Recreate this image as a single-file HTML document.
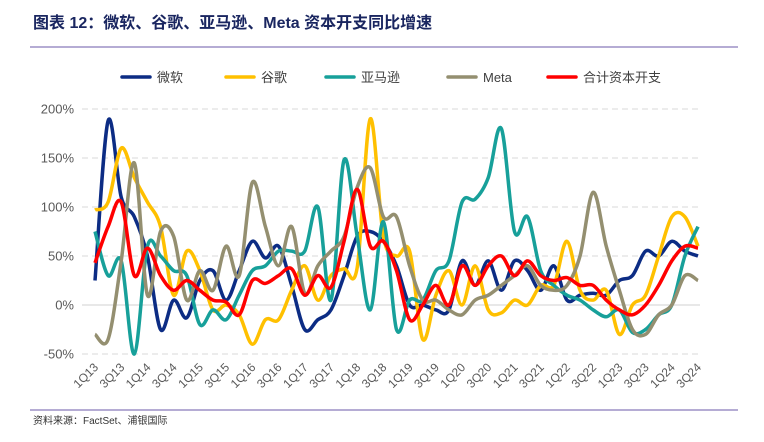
<!DOCTYPE html>
<html><head><meta charset="utf-8"><style>
body{margin:0;background:#fff;width:764px;height:437px;overflow:hidden;font-family:"Liberation Sans","Noto Sans CJK SC",sans-serif}
</style></head><body>
<svg width="764" height="437" xmlns="http://www.w3.org/2000/svg">
<text x="33" y="28" font-size="16" font-weight="bold" fill="#1a2660" font-family="Liberation Sans,Noto Sans CJK SC,sans-serif">图表 12：微软、谷歌、亚马逊、Meta 资本开支同比增速</text>
<line x1="30" y1="47" x2="738" y2="47" stroke="#6b5aa8" stroke-width="1"/>
<line x1="30" y1="410" x2="738" y2="410" stroke="#6b5aa8" stroke-width="1"/>
<text x="33" y="424" font-size="10" fill="#333" font-family="Liberation Sans,Noto Sans CJK SC,sans-serif">资料来源：FactSet、浦银国际</text>
<g id="grid"></g><g id="axes"></g><g id="series"></g><g id="legend"></g>
</svg>
<script>
const categories=[];
const yTicks=[-50,0,50,100,150,200];
const msft=[25,188,110,90,50,-25,5,-13,25,35,5,35,65,48,60,20,-25,-15,-5,30,70,75,65,40,0,0,-5,-5,45,20,45,15,45,35,15,40,5,10,12,10,25,30,55,50,65,55,50];
const goog=[97,105,160,130,105,80,10,55,35,-5,0,-10,-40,-15,-15,15,40,5,30,37,38,190,70,50,55,-35,10,35,0,40,-5,-8,5,0,20,20,65,15,5,15,-30,0,10,50,90,90,60];
const amzn=[75,30,45,-50,60,50,35,30,-20,-5,-15,10,35,40,55,55,55,100,5,148,70,-5,85,-25,5,5,35,45,105,108,130,180,75,90,35,20,10,5,-5,-12,-5,-28,-25,-10,0,50,80];
const meta=[-30,-35,45,145,10,75,70,5,35,15,60,30,125,80,40,80,12,40,55,70,120,140,90,90,40,5,5,-5,-10,5,10,20,30,40,20,15,20,50,115,60,15,-25,-30,-10,0,30,25];
const total=[43,80,105,30,58,30,15,25,15,5,3,-10,25,22,30,37,10,30,18,65,118,60,65,35,-15,0,20,0,40,20,40,50,30,45,30,25,28,20,20,5,-5,-10,0,20,45,60,58];
for(let y=13;y<=24;y++)for(let q=1;q<=4;q++){if(y===24&&q===4)break;categories.push(q+'Q'+y);}
const NS='http://www.w3.org/2000/svg';
const X0=95,X1=698,Y0=305,PPU=0.98;
const xs=i=>X0+(X1-X0)*i/(categories.length-1);
const ys=v=>Y0-v*PPU;
function mk(t,a,p){const e=document.createElementNS(NS,t);for(const k in a)e.setAttribute(k,a[k]);(p||document.querySelector('svg')).appendChild(e);return e;}
const grid=document.getElementById('grid'),axes=document.getElementById('axes'),ser=document.getElementById('series'),leg=document.getElementById('legend');
yTicks.forEach(t=>{
 const l=mk('line',{x1:82,x2:700,y1:ys(t),y2:ys(t),stroke:t===0?'#d0d0d0':'#d9d9d9','stroke-width':1,'stroke-dasharray':t===0?'':'6,4'},grid);
 
 
 const tx=mk('text',{x:74,y:ys(t)+4.5,'text-anchor':'end','font-size':13,fill:'#595959'},axes);
 tx.textContent=t+'%';
 
 
});
categories.forEach((c,i)=>{if(i%2)return;
 const tx=mk('text',{x:xs(i)+4,y:368,'text-anchor':'end','font-size':12,fill:'#595959',transform:`rotate(-45 ${xs(i)+4} 368)`},axes);
 tx.textContent=c;
 
 
});
function path(d){const p=d.map((v,i)=>[xs(i),ys(v)]);let s=`M${p[0][0]},${p[0][1]}`;
 for(let i=0;i<p.length-1;i++){const a=p[i-1]||p[i],b=p[i],c=p[i+1],e=p[i+2]||c;
  s+=` C${b[0]+(c[0]-a[0])/6},${b[1]+(c[1]-a[1])/6} ${c[0]-(e[0]-b[0])/6},${c[1]-(e[1]-b[1])/6} ${c[0]},${c[1]}`;}return s;}
const S=[['微软',msft,'#0c2c84','series-msft'],['谷歌',goog,'#ffc000','series-google'],['亚马逊',amzn,'#17a09a','series-amazon'],['Meta',meta,'#948f70','series-meta'],['合计资本开支',total,'#ff0000','series-total']];
const lx=[122,226,326,448,548];
S.forEach((s,k)=>{
 const p=mk('path',{d:path(s[1]),fill:'none',stroke:s[2],'stroke-width':3.5,'stroke-linejoin':'round'},ser);
 
 
 const l=mk('line',{x1:lx[k],x2:lx[k]+28,y1:77,y2:77,stroke:s[2],'stroke-width':3.5,'stroke-linecap':'round'},leg);
 
 
 const t=mk('text',{x:lx[k]+35,y:82,'font-size':13,fill:'#404040'},leg);
 t.textContent=s[0];
 
 
});
</script>
</body></html>
